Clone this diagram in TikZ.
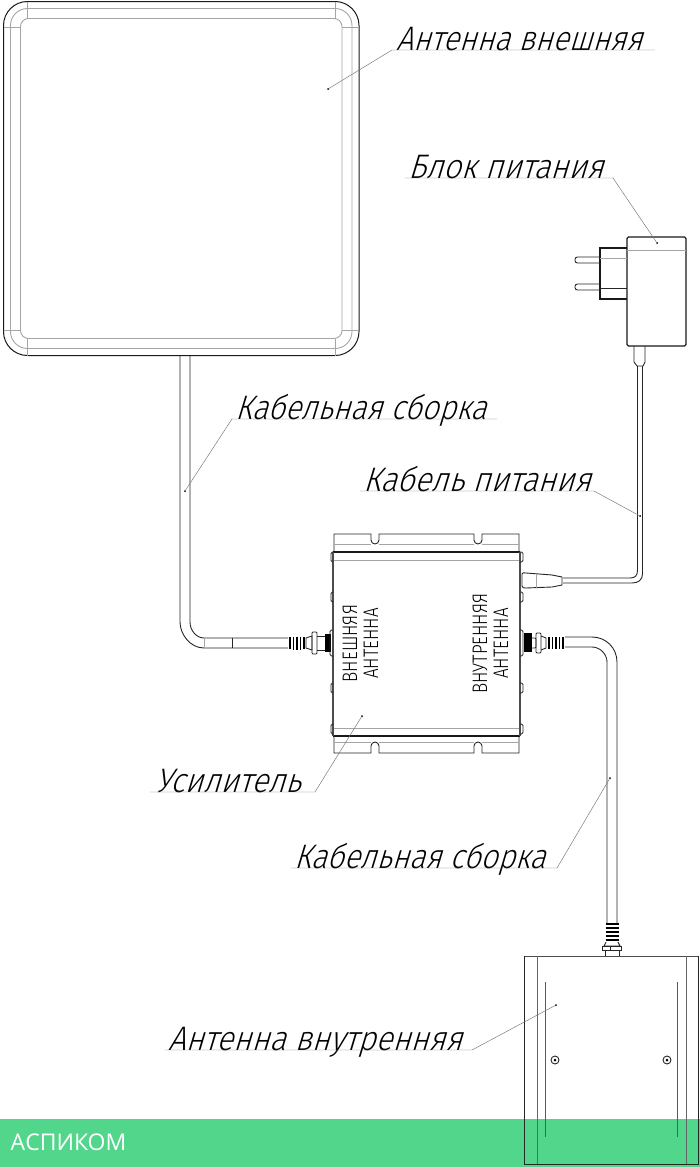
\documentclass[tikz,border=0pt]{standalone}
\usepackage{fontspec}
\usepackage{tikz}
\usetikzlibrary{positioning}
\newfontfamily\annfont[FakeStretch=0.91,FakeSlant=0.3]{Fira Sans Light}
\newfontfamily\annfontn[FakeStretch=0.88,FakeSlant=0.3]{Fira Sans Light}
\newfontfamily\boxfont[FakeStretch=0.81]{Fira Sans Light}
\setsansfont{Open Sans}
\definecolor{bandgreen}{RGB}{82,214,140}
\definecolor{linegray}{RGB}{165,165,165}
\tikzset{
  ann_t/.style = {anchor=base west, inner sep=0pt, text=black,
    font=\annfont\fontsize{34}{34}\selectfont},
  ann_n/.style = {ann_t, font=\annfontn\fontsize{34}{34}\selectfont},
  box_t/.style = {inner sep=0pt, rotate=90, text=black, align=center,
    font=\boxfont\fontsize{21}{21}\selectfont},
  leader/.style = {draw=black!55, line width=.45pt},
  dot_n/.style = {circle, fill=black, inner sep=0pt, minimum size=2pt},
  part/.style = {draw=black!85, line width=.9pt},
  part_k/.style = {draw=black!90, line width=1pt},
  part_l/.style = {draw=linegray, line width=.9pt},
  ridge/.style = {draw=black, line width=1.7pt},
  screw_n/.style = {circle, draw=black!85, line width=.9pt, inner sep=0pt, minimum size=8pt}
}
\begin{document}
\begin{tikzpicture}[x=1pt,y=-1pt]
        \useasboundingbox (0,0) rectangle (700,1167);
        \fill[bandgreen] (0,1119) rectangle (700,1167);
        \node [anchor=base west, inner sep=0pt, text=white, font=\sffamily\fontsize{23}{23}\selectfont](brand) at (10.5,1150){АСПИКОМ};

        % external antenna
        \draw [part_k, rounded corners=24pt] (3.5,1.5) rectangle (359,355.5);
        \draw [part_l, rounded corners=17pt] (10.5,8.5) rectangle (352,348.5);
        \draw [part_l, rounded corners=8pt] (20.5,18.5) rectangle (342,338.5);
        \draw [part_l] (27,1.5) -- (27,18.5) (3.5,27) -- (20.5,27);
        \draw [part_l] (335,1.5) -- (335,18.5) (342,27) -- (359,27);
        \draw [part_l] (27,338.5) -- (27,355.5) (3.5,330) -- (20.5,330);
        \draw [part_l] (335,338.5) -- (335,355.5) (342,330) -- (359,330);

        % first cable
        \draw [part] (180,356) -- (180,622) .. controls (180,634) and (190,648) .. (204,648) -- (288,648);
        \draw [part] (190,356) -- (190,622) .. controls (190,630) and (196,638) .. (204,638) -- (288,638);
        \draw [part_l] (204,638) -- (204,648);
        \draw [part] (232,638) -- (232,648);
        \draw [ridge] (290,637) -- (290,649) (293.5,636.5) -- (293.5,649.5) (297,636.5) -- (297,649.5) (300.5,636.5) -- (300.5,649.5) (304,637) -- (304,649);
        \draw [part] (306,638) -- (312,636) -- (312,650) -- (306,648) -- cycle;
        \draw [part, rounded corners=1pt] (312,632) rectangle (317,654);
        \draw [part] (317,636) -- (325,636) -- (325,650) -- (317,650);
        \fill [black] (325,634) rectangle (331,652);

        % amplifier
        \draw [part] (334,552) -- (334,534) -- (371,534) -- (371,540) arc (180:0:4) -- (379,534) -- (474,534) -- (474,540) arc (180:0:4) -- (482,534) -- (519,534) -- (519,552);
        \draw [part] (334,736) -- (334,753) -- (371,753) -- (371,746) arc (180:360:4) -- (379,753) -- (474,753) -- (474,746) arc (180:360:4) -- (482,753) -- (519,753) -- (519,736);
        \draw [part_k, line width=1.2pt] (333,552) -- (520,552) (333,736) -- (520,736);
        \draw [part_l] (334,560) -- (519,560) (334,728) -- (519,728);
        \draw [part_l] (334,544) -- (371,544) (379,544) -- (474,544) (482,544) -- (519,544);
        \draw [part_l] (334,742) -- (371,742) (379,742) -- (474,742) (482,742) -- (519,742);
        \draw [draw=black!70, line width=1.2pt] (333,552) -- (333,736) (520,552) -- (520,736);
        \draw [part, rounded corners=1.5pt] (333,552) -- (331,552) -- (331,562) -- (333,562);
        \draw [part, rounded corners=1.5pt] (333,592) -- (331,592) -- (331,602) -- (333,602);
        \draw [part, rounded corners=1.5pt] (333,683) -- (331,683) -- (331,693) -- (333,693);
        \draw [part, rounded corners=1.5pt] (333,724) -- (331,724) -- (331,734) -- (333,734);
        \draw [part, rounded corners=1.5pt] (520,552) -- (523,552) -- (523,562) -- (520,562);
        \draw [part, rounded corners=1.5pt] (520,592) -- (523,592) -- (523,602) -- (520,602);
        \draw [part, rounded corners=1.5pt] (520,683) -- (523,683) -- (523,693) -- (520,693);
        \draw [part, rounded corners=1.5pt] (520,724) -- (523,724) -- (523,734) -- (520,734);
        \draw [part, rounded corners=1.5pt] (333,630) -- (330,630) -- (330,656) -- (333,656);
        \draw [part, rounded corners=1.5pt] (520,630) -- (523,630) -- (523,656) -- (520,656);
        \node [box_t](amp_in) at (360.5,643.5){ВНЕШНЯЯ\\АНТЕННА};
        \node [box_t](amp_out) at (490.5,643.5){ВНУТРЕННЯЯ\\АНТЕННА};

        % second cable
        \fill [black] (524,633) rectangle (532,652);
        \draw [part, rounded corners=1pt] (532,638) -- (536,638) -- (536,648) -- (532,648);
        \draw [part, rounded corners=1pt] (536,633) rectangle (541,653);
        \draw [part] (541,636) -- (546,638) -- (546,648) -- (541,650);
        \draw [ridge] (549,637) -- (549,649) (552.5,637) -- (552.5,649) (556,637) -- (556,649) (559.5,637) -- (559.5,649) (563,637) -- (563,649);
        \draw [part] (565,637) -- (592,637) .. controls (606,637) and (617,648) .. (617,662) -- (617,923);
        \draw [part] (565,647) -- (592,647) .. controls (600,647) and (607,654) .. (607,662) -- (607,923);
        \draw [ridge] (605.5,924) -- (618.5,924) (605.5,928) -- (618.5,928) (605.5,932) -- (618.5,932) (605.5,936) -- (618.5,936) (605.5,940) -- (618.5,940);
        \draw [part] (606,942) -- (604,946) -- (620,946) -- (618,942);
        \draw [part] (602,946) rectangle (621,950.5);
        \draw [part] (610,946) -- (610,950.5);
        \draw [part] (605,950.5) -- (605,956) (619,950.5) -- (619,956);

        % internal antenna
        \draw [part] (524.5,956) rectangle (698,1164);
        \draw [draw=black!70, line width=1pt] (524.5,956) -- (698,956);
        \draw [draw=black!60, line width=1pt] (537,956) -- (537,1164) (686,956) -- (686,1164);
        \draw [draw=black!65, line width=.9pt] (545,982) -- (545,1137) (677.5,982) -- (677.5,1137);
        \node [screw_n](screw_a) at (555,1060){};
        \node [screw_n](screw_b) at (667,1060){};
        \node [dot_n, minimum size=3pt](screw_c) at (555,1060){};
        \node [dot_n, minimum size=3pt](screw_d) at (667,1060){};

        % power supply
        \draw [part_k, line width=1.2pt, rounded corners=1.5pt] (627,237) rectangle (686,346);
        \draw [part_l] (627,250) -- (686,250);
        \draw [part_k, line width=1.2pt] (627,248) -- (600,248) -- (600,299) -- (627,299);
        \draw [part_l] (600,258) -- (627,258);
        \draw [part] (600,288) -- (627,288);
        \draw [part, rounded corners=2.5pt] (600,257) -- (575,257) -- (575,263) -- (600,263);
        \draw [part, rounded corners=2.5pt] (600,284) -- (575,284) -- (575,290) -- (600,290);
        \draw [part] (634,346) -- (634,362) -- (637,366) -- (643,366) -- (645,362) -- (645,346);
        \draw [part] (637.5,366) -- (637.5,570) .. controls (637.5,576) and (635,578) .. (630,578) -- (563,578);
        \draw [part] (642.5,366) -- (642.5,574) .. controls (642.5,580) and (638,583) .. (632,583) -- (563,583);
        \draw [part] (522,574) .. controls (522,572) and (524,573) .. (526,573) -- (552,575) -- (562,577) -- (562,585) -- (552,587) -- (526,588) .. controls (524,588) and (522,588) .. (522,586) -- cycle;
        \draw [part_l] (536,574) -- (536,588);

        % labels and leaders
        \node [ann_n](ant_ext) at (396,50){Антенна внешняя};
        \node [dot_n](ant_ext_d) at (328,89){};
        \coordinate (ant_ext_a) at (392,50);
        \coordinate (ant_ext_b) at (655,50);
        \draw [leader] (ant_ext_d) -- (ant_ext_a) -- (ant_ext_b);

        \node [ann_t](psu) at (408,178){Блок питания};
        \node [dot_n](psu_d) at (657,243){};
        \coordinate (psu_a) at (613,178);
        \coordinate (psu_b) at (405,178);
        \draw [leader] (psu_d) -- (psu_a) -- (psu_b);

        \node [ann_n](cab_a) at (235,419){Кабельная сборка};
        \node [dot_n](cab_a_d) at (185,491){};
        \coordinate (cab_a_a) at (232,419);
        \coordinate (cab_a_b) at (497,419);
        \draw [leader] (cab_a_d) -- (cab_a_a) -- (cab_a_b);

        \node [ann_t](pow) at (363,491){Кабель питания};
        \node [dot_n](pow_d) at (640,516){};
        \coordinate (pow_a) at (594,491);
        \coordinate (pow_b) at (360,491);
        \draw [leader] (pow_d) -- (pow_a) -- (pow_b);

        \node [ann_t](amp) at (155,792){Усилитель};
        \node [dot_n](amp_d) at (362,716){};
        \coordinate (amp_a) at (315,792);
        \coordinate (amp_b) at (150,792);
        \draw [leader] (amp_d) -- (amp_a) -- (amp_b);

        \node [ann_n](cab_b) at (294,868){Кабельная сборка};
        \node [dot_n](cab_b_d) at (610,778){};
        \coordinate (cab_b_a) at (557,868);
        \coordinate (cab_b_b) at (291,868);
        \draw [leader] (cab_b_d) -- (cab_b_a) -- (cab_b_b);

        \node [ann_t](ant_int) at (168,1050){Антенна внутренняя};
        \node [dot_n](ant_int_d) at (556,1005){};
        \coordinate (ant_int_a) at (472,1050);
        \coordinate (ant_int_b) at (165,1050);
        \draw [leader] (ant_int_d) -- (ant_int_a) -- (ant_int_b);
\end{tikzpicture}
\end{document}
